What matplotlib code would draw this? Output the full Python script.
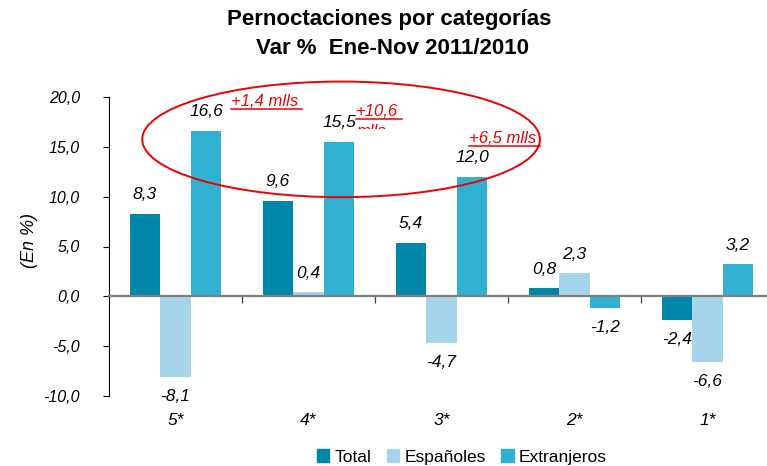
import matplotlib
matplotlib.use('Agg')
import matplotlib.pyplot as plt
import numpy as np
from matplotlib.patches import Ellipse, Rectangle
from matplotlib.lines import Line2D

plt.rcParams['font.family'] = ['Liberation Sans', 'DejaVu Sans']

# ── Data ──────────────────────────────────────────────────────────────────────
categories = ['5*', '4*', '3*', '2*', '1*']
total       = [8.3, 9.6, 5.4, 0.8, -2.4]
espanoles   = [-8.1, 0.4, -4.7, 2.3, -6.6]
extranjeros = [16.6, 15.5, 12.0, -1.2, 3.2]
series_names = ['Total', 'Españoles', 'Extranjeros']
notes = ['+1,4 mlls', '+10,6', '+6,5 mlls']

colors = ['#0086a8', '#a6d4ea', '#31b1d1']

W, H = 767, 466
fig = plt.figure(figsize=(W / 100, H / 100), dpi=100)
ax = fig.add_axes([109 / W, 70 / H, 665 / W, 299 / H])

x = np.arange(len(categories))
bw = 0.23
for k, (vals, c) in enumerate(zip([total, espanoles, extranjeros], colors)):
    bars = ax.bar(x + (k - 1) * bw, vals, bw, color=c, zorder=2)
    for b, v in zip(bars, vals):
        off = 13.7 if v >= 0 else -13.7
        ax.annotate(f'{v:.1f}'.replace('.', ','),
                    (b.get_x() + b.get_width() / 2, v),
                    xytext=(0, off), textcoords='offset points',
                    ha='center', va='center', fontsize=12.5, style='italic')

ax.set_xlim(-0.5, 4.5)
ax.set_ylim(-10, 20)
ax.set_yticks(np.arange(-10, 21, 5))
ax.set_yticklabels([f'{t:.1f}'.replace('.', ',') for t in np.arange(-10, 21, 5)],
                   fontsize=11.5, style='italic')
ax.tick_params(axis='y', length=4, width=0.8, pad=17)

for s in ['top', 'right']:
    ax.spines[s].set_visible(False)
ax.spines['left'].set_linewidth(0.8)
ax.spines['bottom'].set_position(('data', 0))
ax.spines['bottom'].set_color('#808080')
ax.spines['bottom'].set_linewidth(1.6)
ax.spines['bottom'].set_zorder(3)
ax.set_xticks(x[:-1] + 0.5)
ax.set_xticklabels([])
ax.tick_params(axis='x', length=5, width=0.9, color='#404040', direction='out')

for i, cat in enumerate(categories):
    ax.text(i, -12.5, cat, ha='center', va='center', fontsize=12.5,
            style='italic', clip_on=False)

# ── Highlight ellipse and notes ───────────────────────────────────────────────
ax.add_patch(Ellipse((1.245, 15.75), 2.99, 11.6, fill=False, edgecolor='#ee0000',
                     linewidth=1.4, clip_on=False, zorder=4))

note_pos = [(0.42, 19.55), (1.36, 18.55), (2.21, 15.85)]
note_txt = []
for (nx, ny), s in zip(note_pos, notes):
    t = ax.text(nx, ny, s, color='#ee0000', fontsize=12, style='italic',
                ha='left', va='center', clip_on=False, zorder=5)
    note_txt.append(t)

# second line of "+10,6 mlls" is cut off in the original text box
ax.text(1.36, 16.5, 'mlls', color='#ee0000', fontsize=12, style='italic',
        ha='left', va='center', zorder=5)
fig.add_artist(Rectangle((354 / W, 1 - 142 / H), 52 / W, 13 / H, facecolor='white',
                         edgecolor='none', transform=fig.transFigure, zorder=6))

# ── Titles, label, legend ─────────────────────────────────────────────────────
fig.text(389 / W, 1 - 19 / H, 'Pernoctaciones por categorías', ha='center',
         va='center', fontsize=16, fontweight='bold')
fig.text(392 / W, 1 - 48 / H, 'Var %  Ene-Nov 2011/2010', ha='center',
         va='center', fontsize=16, fontweight='bold')
fig.text(30 / W, 1 - 240 / H, '(En %)', rotation=90, ha='center', va='center',
         fontsize=13, style='italic')

handles = [Rectangle((0, 0), 1, 1, color=c) for c in colors]
fig.legend(handles, series_names, loc='center', bbox_to_anchor=(462 / W, 1 - 457 / H),
           ncol=3, frameon=False, fontsize=12.5, handlelength=0.7, handleheight=0.7,
           handletextpad=0.3, columnspacing=0.9)

# underline the red notes
fig.canvas.draw()
inv = fig.transFigure.inverted()
for t in note_txt:
    bb = t.get_window_extent()
    x0, y0 = inv.transform((bb.x0, bb.y0))
    x1, _ = inv.transform((bb.x1 + 3, bb.y0))
    fig.add_artist(Line2D([x0, x1], [y0, y0], color='#ee0000', linewidth=1.1,
                          transform=fig.transFigure, zorder=7))

fig.savefig('out.png', dpi=100)
